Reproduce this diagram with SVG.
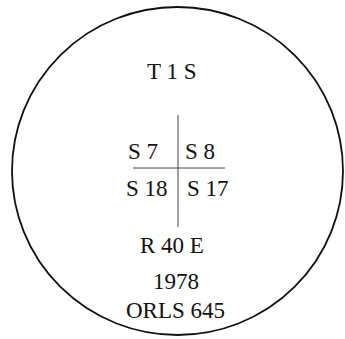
<svg xmlns="http://www.w3.org/2000/svg" width="345" height="339" viewBox="0 0 345 339">
<style>
text{font-family:"Liberation Serif","Times New Roman",serif;font-size:23px;fill:#111}
.ln{stroke:#444;stroke-width:1;fill:none}
</style>
<rect width="345" height="339" fill="#fff"/>
<g id="outline"><ellipse cx="177.5" cy="171" rx="165.5" ry="164" fill="none" stroke="#111" stroke-width="1.8"/></g>
<g id="connectors">
<line class="ln" x1="178" y1="115" x2="178" y2="227"/>
<line class="ln" x1="133" y1="168" x2="225" y2="168"/>
</g>
<g id="township"><text x="147" y="79">T 1 S</text></g>
<g id="s7"><text x="128" y="159">S 7</text></g>
<g id="s8"><text x="185" y="159">S 8</text></g>
<g id="s18"><text x="126" y="196">S 18</text></g>
<g id="s17"><text x="187" y="196">S 17</text></g>
<g id="range"><text x="140" y="253">R 40 E</text></g>
<g id="year"><text x="153" y="289">1978</text></g>
<g id="orls"><text x="126" y="318">ORLS 645</text></g>
</svg>
